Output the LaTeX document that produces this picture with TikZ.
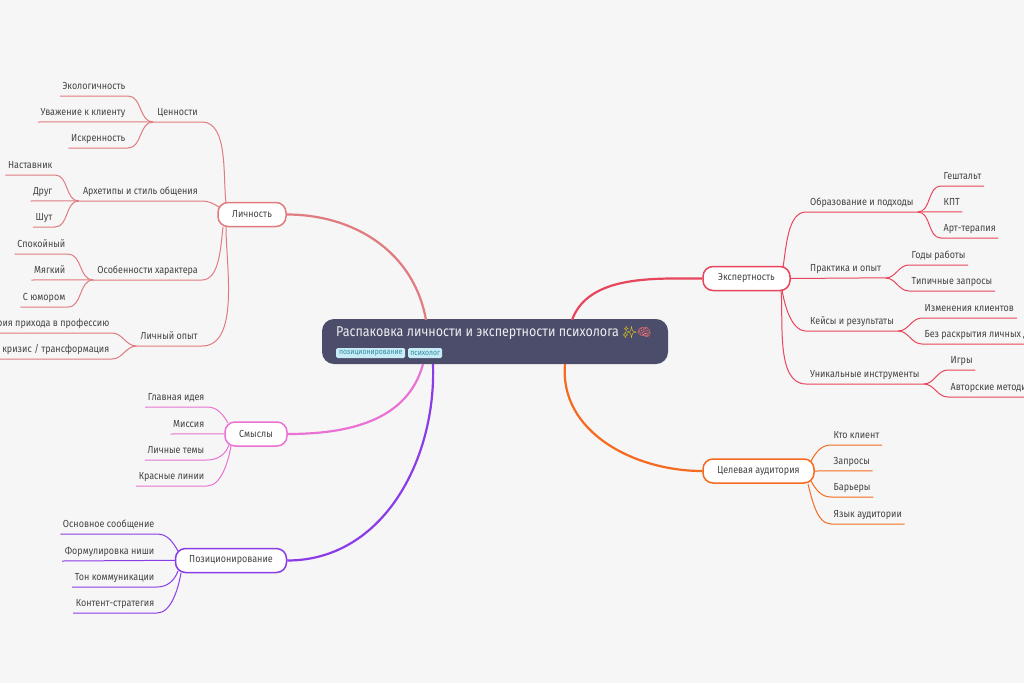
\documentclass[tikz,border=0pt]{standalone}
\usepackage{fontspec}
\setmainfont{Fira Sans}[FakeStretch=0.88]
\newfontfamily\emojifont{Noto Emoji}
\usepackage{xcolor}

\definecolor{paper}{HTML}{F6F6F6}
\definecolor{hubFill}{HTML}{4B4D6B}
\definecolor{tagFill}{HTML}{C8ECF5}
\definecolor{tagText}{HTML}{2F8BA3}
\definecolor{inkText}{HTML}{444444}
\definecolor{persCol}{HTML}{E07B7F}
\definecolor{expCol}{HTML}{E8465C}
\definecolor{audCol}{HTML}{F56A1E}
\definecolor{ideaCol}{HTML}{E972D4}
\definecolor{posCol}{HTML}{8B3CE8}

\tikzset{
  label/.style={inner ysep=3.5pt,text height=8pt,text depth=2.5pt,text=inkText,
    font=\fontsize{10.2}{12}\selectfont},
  leaf/.style={label,inner xsep=2.5pt},
  sub/.style={label,inner xsep=4pt},
  topic/.style={draw=#1,fill=white,line width=1.5pt,rounded corners=10pt,inner sep=0pt,
    minimum height=24pt,text=inkText,font=\fontsize{10.2}{12}\selectfont},
  tag/.style={fill=tagFill,text=tagText,rounded corners=1.5pt,inner xsep=2pt,inner ysep=0pt,
    minimum height=10pt,font=\fontsize{7.8}{9}\selectfont},
  twig/.style={draw=#1,line width=1pt},
  limb/.style={draw=#1,line width=2.2pt},
  level/.style={out=0,in=180}
}

\begin{document}
\begin{tikzpicture}[x=1pt,y=-1pt]
    \pgfmathsetmacro{\leftEdge}{202}
    \pgfmathsetmacro{\rightEdge}{806}
    \useasboundingbox[fill=paper] (0,0) rectangle (1024,683);

    % Hub
    \node[fill=hubFill,rounded corners=12pt,minimum width=346pt,minimum height=45pt] (hub) at (495,341.5) {};
    \node[anchor=west,inner sep=0pt,text=white!90!hubFill,font=\fontsize{14.2}{15}\selectfont] (title) at (336,333)
      {Распаковка личности и экспертности психолога {\emojifont\fontsize{11.5}{15}\selectfont\textcolor{yellow!85!orange}{✨}\textcolor{red!40!pink}{🧠}}};
    \node[tag,anchor=west,minimum width=69pt] (tagPos) at (336,353) {позиционирование};
    \node[tag,anchor=west,minimum width=34pt] (tagPsy) at (408,353) {психолог};

    % Topics
    \node[topic=persCol,minimum width=68pt] (pers) at (252,214.5) {Личность};
    \node[topic=expCol,minimum width=87pt] (exp) at (746.5,278.5) {Экспертность};
    \node[topic=audCol,minimum width=111pt] (aud) at (758.5,471) {Целевая аудитория};
    \node[topic=ideaCol,minimum width=62pt] (idea) at (256,434) {Смыслы};
    \node[topic=posCol,minimum width=111pt] (posi) at (231,560.5) {Позиционирование};

    % Hub attach points
    \coordinate (hubPers) at (426,320);
    \coordinate (hubExp) at (572,320);
    \coordinate (hubAud) at (565,364);
    \coordinate (hubIdea) at (423,364);
    \coordinate (hubPos) at (433,364);

    % Limbs
    \draw[limb=persCol] (pers.east) to[out=0,in=100,looseness=1] (hubPers);
    \draw[limb=expCol] (exp.west) to[out=180,in=70,looseness=0.9] (hubExp);
    \draw[limb=audCol] (aud.west) to[out=180,in=-95,looseness=1] (hubAud);
    \draw[limb=ideaCol] (idea.east) to[out=0,in=-105,looseness=1] (hubIdea);
    \draw[limb=posCol] (posi.east) to[out=0,in=-88,looseness=1] (hubPos);

    % Personality
    \node[sub,anchor=south east] (values) at (\leftEdge,122) {Ценности};
    \node[sub,anchor=south east] (types) at (\leftEdge,201) {Архетипы и стиль общения};
    \node[sub,anchor=south east] (traits) at (\leftEdge,280) {Особенности характера};
    \node[sub,anchor=south east] (story) at (\leftEdge,346) {Личный опыт};
    \coordinate (persA) at (226,203);
    \coordinate (persB) at (219,207);
    \coordinate (persC) at (223,227);
    \coordinate (persD) at (226,227);
    \draw[twig=persCol] (values.south west) -- (values.south east) to[out=0,in=97,looseness=0.8] (persA);
    \draw[twig=persCol] (types.south west) -- (types.south east) to[out=0,in=150] (persB);
    \draw[twig=persCol] (traits.south west) -- (traits.south east) to[out=0,in=-97,looseness=0.8] (persC);
    \draw[twig=persCol] (story.south west) -- (story.south east) to[out=0,in=-90,looseness=0.8] (persD);

    \node[leaf,anchor=south east] (eco) at (128,96) {Экологичность};
    \node[leaf,anchor=south east] (respect) at (128,122) {Уважение к клиенту};
    \node[leaf,anchor=south east] (honest) at (128,148) {Искренность};
    \draw[twig=persCol] (eco.south west) -- (eco.south east) to[level] (values.south west);
    \draw[twig=persCol] (respect.south west) -- ([yshift=0.2pt]values.south west);
    \draw[twig=persCol] (honest.south west) -- (honest.south east) to[level] (values.south west);

    \node[leaf,anchor=south east] (mentor) at (55,175) {Наставник};
    \node[leaf,anchor=south east] (friend) at (55,201) {Друг};
    \node[leaf,anchor=south east] (jester) at (55,227) {Шут};
    \draw[twig=persCol] (mentor.south west) -- (mentor.south east) to[level] (types.south west);
    \draw[twig=persCol] (friend.south west) -- ([yshift=0.2pt]types.south west);
    \draw[twig=persCol] (jester.south west) -- (jester.south east) to[level] (types.south west);

    \node[leaf,anchor=south east] (calm) at (68,254) {Спокойный};
    \node[leaf,anchor=south east] (soft) at (68,280) {Мягкий};
    \node[leaf,anchor=south east] (humor) at (68,307) {С юмором};
    \draw[twig=persCol] (calm.south west) -- (calm.south east) to[level] (traits.south west);
    \draw[twig=persCol] (soft.south west) -- ([yshift=0.2pt]traits.south west);
    \draw[twig=persCol] (humor.south west) -- (humor.south east) to[level] (traits.south west);

    \node[leaf,anchor=south east] (origin) at (112,333) {История прихода в профессию};
    \node[leaf,anchor=south east] (crisis) at (112,359) {Личный кризис / трансформация};
    \draw[twig=persCol] (origin.south west) -- (origin.south east) to[level] (story.south west);
    \draw[twig=persCol] (crisis.south west) -- (crisis.south east) to[level] (story.south west);

    % Expertise
    \node[sub,anchor=south west] (edu) at (\rightEdge,212) {Образование и подходы};
    \node[sub,anchor=south west] (prac) at (\rightEdge,278) {Практика и опыт};
    \node[sub,anchor=south west] (cases) at (\rightEdge,331) {Кейсы и результаты};
    \node[sub,anchor=south west] (tools) at (\rightEdge,384) {Уникальные инструменты};
    \coordinate (expA) at (783,267);
    \coordinate (expC) at (782,290);
    \coordinate (expD) at (781,290);
    \draw[twig=expCol] (edu.south east) -- (edu.south west) to[out=180,in=80,looseness=0.8] (expA);
    \draw[twig=expCol] (exp.east) -- ([yshift=0.2pt]prac.south east);
    \draw[twig=expCol] (cases.south east) -- (cases.south west) to[out=180,in=-80,looseness=0.8] (expC);
    \draw[twig=expCol] (tools.south east) -- (tools.south west) to[out=180,in=-85,looseness=0.8] (expD);

    \node[leaf,anchor=south west] (gestalt) at (941,186) {Гештальт};
    \node[leaf,anchor=south west] (cbt) at (941,212) {КПТ};
    \node[leaf,anchor=south west] (art) at (941,238) {Арт-терапия};
    \draw[twig=expCol] (edu.south east) to[level] (gestalt.south west) -- (gestalt.south east);
    \draw[twig=expCol] (edu.south east) -- ([yshift=0.2pt]cbt.south east);
    \draw[twig=expCol] (edu.south east) to[level] (art.south west) -- (art.south east);

    \node[leaf,anchor=south west] (years) at (909,265) {Годы работы};
    \node[leaf,anchor=south west] (asks) at (909,291) {Типичные запросы};
    \draw[twig=expCol] (prac.south east) to[level] (years.south west) -- (years.south east);
    \draw[twig=expCol] (prac.south east) to[level] (asks.south west) -- (asks.south east);

    \node[leaf,anchor=south west] (change) at (922,318) {Изменения клиентов};
    \node[leaf,anchor=south west] (private) at (922,344) {Без раскрытия личных данных};
    \draw[twig=expCol] (cases.south east) to[level] (change.south west) -- (change.south east);
    \draw[twig=expCol] (cases.south east) to[level] (private.south west) -- (private.south east);

    \node[leaf,anchor=south west] (games) at (948,370) {Игры};
    \node[leaf,anchor=south west] (methods) at (948,397) {Авторские методики};
    \draw[twig=expCol] (tools.south east) to[level] (games.south west) -- (games.south east);
    \draw[twig=expCol] (tools.south east) to[level] (methods.south west) -- (methods.south east);

    % Audience
    \node[leaf,anchor=south west] (who) at (831,445) {Кто клиент};
    \node[leaf,anchor=south west] (reqs) at (831,471) {Запросы};
    \node[leaf,anchor=south west] (walls) at (831,497) {Барьеры};
    \node[leaf,anchor=south west] (speech) at (831,524) {Язык аудитории};
    \coordinate (audA) at (811,461);
    \coordinate (audC) at (811,481);
    \coordinate (audD) at (808,484);
    \draw[twig=audCol] (who.south east) -- (who.south west) to[out=180,in=60] (audA);
    \draw[twig=audCol] (aud.east) -- ([yshift=0.2pt]reqs.south east);
    \draw[twig=audCol] (walls.south east) -- (walls.south west) to[out=180,in=-60] (audC);
    \draw[twig=audCol] (speech.south east) -- (speech.south west) to[out=180,in=-75,looseness=0.8] (audD);

    % Meanings
    \node[leaf,anchor=south east] (main) at (207,407) {Главная идея};
    \node[leaf,anchor=south east] (mission) at (207,434) {Миссия};
    \node[leaf,anchor=south east] (themes) at (207,460) {Личные темы};
    \node[leaf,anchor=south east] (lines) at (207,486) {Красные линии};
    \coordinate (ideaA) at (228,423);
    \coordinate (ideaC) at (229,445);
    \coordinate (ideaD) at (231,446);
    \draw[twig=ideaCol] (main.south west) -- (main.south east) to[out=0,in=120] (ideaA);
    \draw[twig=ideaCol] (mission.south west) -- ([yshift=0.2pt]idea.west);
    \draw[twig=ideaCol] (themes.south west) -- (themes.south east) to[out=0,in=-110] (ideaC);
    \draw[twig=ideaCol] (lines.south west) -- (lines.south east) to[out=0,in=-100,looseness=0.8] (ideaD);

    % Positioning
    \node[leaf,anchor=south east] (core) at (157,534) {Основное сообщение};
    \node[leaf,anchor=south east] (niche) at (157,561) {Формулировка ниши};
    \node[leaf,anchor=south east] (tone) at (157,587) {Тон коммуникации};
    \node[leaf,anchor=south east] (plan) at (157,613) {Контент-стратегия};
    \coordinate (posA) at (178,551);
    \coordinate (posC) at (178,571);
    \coordinate (posD) at (181,573);
    \draw[twig=posCol] (core.south west) -- (core.south east) to[out=0,in=120] (posA);
    \draw[twig=posCol] (niche.south west) -- ([yshift=0.2pt]posi.west);
    \draw[twig=posCol] (tone.south west) -- (tone.south east) to[out=0,in=-110] (posC);
    \draw[twig=posCol] (plan.south west) -- (plan.south east) to[out=0,in=-100,looseness=0.8] (posD);
\end{tikzpicture}
\end{document}
